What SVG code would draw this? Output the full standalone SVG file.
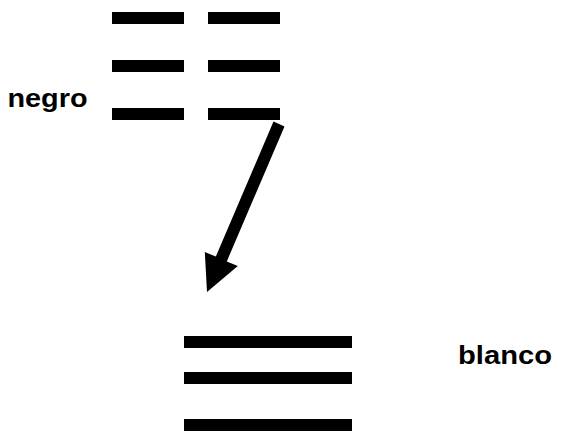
<svg xmlns="http://www.w3.org/2000/svg" width="563" height="444" viewBox="0 0 563 444">
<style>
.bar{fill:#000}
.lbl{font-family:"Liberation Sans",Arial,sans-serif;font-weight:bold;font-size:25px;fill:#000}
</style>
<rect width="563" height="444" fill="#fff"/>
<g id="trigram-kun">
<rect class="bar" x="112" y="12" width="72" height="12"/>
<rect class="bar" x="208" y="12" width="72" height="12"/>
<rect class="bar" x="112" y="60" width="72" height="12"/>
<rect class="bar" x="208" y="60" width="72" height="12"/>
<rect class="bar" x="112" y="108" width="72" height="12"/>
<rect class="bar" x="208" y="108" width="72" height="12"/>
</g>
<g id="label-negro"><text class="lbl" x="7.5" y="107" textLength="80" lengthAdjust="spacingAndGlyphs">negro</text></g>
<g id="trigram-qian">
<rect class="bar" x="184" y="336" width="168" height="12"/>
<rect class="bar" x="184" y="372" width="168" height="12"/>
<rect class="bar" x="184" y="419" width="168" height="12"/>
</g>
<g id="label-blanco"><text class="lbl" x="458" y="364" textLength="94" lengthAdjust="spacingAndGlyphs">blanco</text></g>
<g id="connectors">
<polygon points="284.5,126.4 273.5,121.6 215.8,256.6 204.8,251.9 207,292 237.8,266.1 226.8,261.4" fill="#000"/>
</g>
</svg>
